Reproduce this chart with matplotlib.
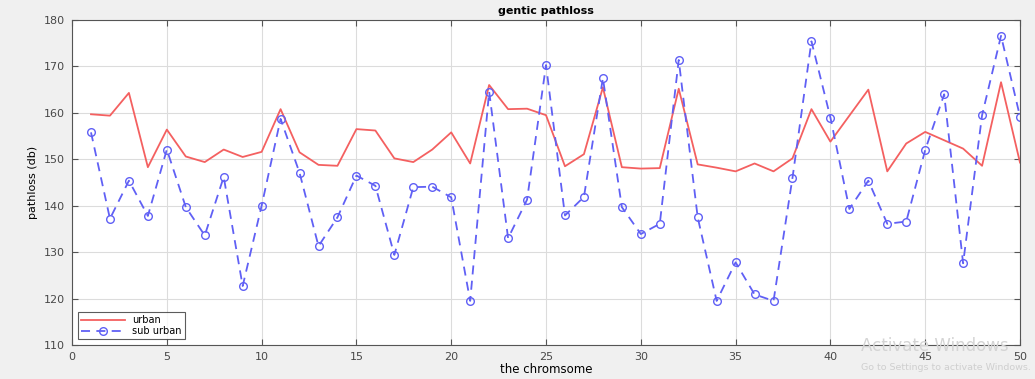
import matplotlib
matplotlib.use("Agg")
import matplotlib.pyplot as plt
import numpy as np

# chromosome index
chromosome = list(range(1, 51))

# path loss values (db)
urban = [159.7, 159.4, 164.3, 148.3, 156.4, 150.6, 149.4, 152.1, 150.5, 151.6,
	160.8, 151.5, 148.8, 148.6, 156.5, 156.2, 150.2, 149.4, 152.1, 155.8,
	149.1, 166.0, 160.8, 160.9, 159.5, 148.5, 151.1, 165.5, 148.3, 148.0,
	148.1, 165.2, 148.9, 148.2, 147.4, 149.1, 147.4, 150.2, 160.8, 153.8,
	159.4, 165.0, 147.4, 153.4, 155.9, 154.1, 152.3, 148.6, 166.6, 149.3]
sub_urban = [155.8, 137.2, 145.4, 137.8, 152.1, 139.7, 133.6, 146.2, 122.7, 140.0,
	158.7, 147.1, 131.3, 137.5, 146.5, 144.3, 129.4, 144.0, 144.1, 141.8,
	119.5, 164.6, 133.0, 141.3, 170.3, 137.9, 141.9, 167.5, 139.7, 133.9,
	136.1, 171.4, 137.5, 119.5, 127.8, 120.9, 119.5, 146.0, 175.4, 159.0,
	139.3, 145.4, 136.1, 136.6, 152.0, 164.0, 127.6, 159.5, 176.6, 159.2]

series_names = ["urban", "sub urban"]

fig = plt.figure(figsize=(10.35, 3.79), dpi=100, facecolor="#f0f0f0")
ax = fig.add_axes([0.0696, 0.0897, 0.9159, 0.8575])
ax.set_facecolor("white")

ax.plot(chromosome, urban, "-", color="#f46060", lw=1.3, label=series_names[0])
ax.plot(chromosome, sub_urban, "--o", color="#6060f5", lw=1.3, ms=5.5,
	mfc="none", mew=1.0, dashes=(5, 3.5), label=series_names[1])

ax.set_xlim(0, 50)
ax.set_ylim(110, 180)
ax.set_xticks(np.arange(0, 51, 5))
ax.set_yticks(np.arange(110, 181, 10))
ax.grid(True, color="#dcdcdc", lw=0.8)
ax.tick_params(direction="in", top=True, right=True, labelsize=8,
	labelcolor="#484848", color="#555555", length=4, pad=5)
for s in ax.spines.values():
	s.set_color("#555555")
	s.set_linewidth(0.8)

ax.set_title("gentic pathloss", fontsize=8, fontweight="bold", pad=4)
ax.set_xlabel("the chromsome", fontsize=8.5, labelpad=1)
ax.set_ylabel("pathloss (db)", fontsize=8, labelpad=4)

leg = ax.legend(loc="lower left", fontsize=7, frameon=True, fancybox=False,
	borderaxespad=0.6, handlelength=4.5, labelspacing=0.1, borderpad=0.3,
	edgecolor="#333333")
leg.get_frame().set_linewidth(0.8)

# screenshot watermark
fig.text(0.832, 0.075, "Activate Windows", fontsize=12, color="#d4d4d4")
fig.text(0.832, 0.025, "Go to Settings to activate Windows.", fontsize=6.8, color="#cfcfcf")

fig.savefig("out.png", dpi=100, facecolor=fig.get_facecolor())
